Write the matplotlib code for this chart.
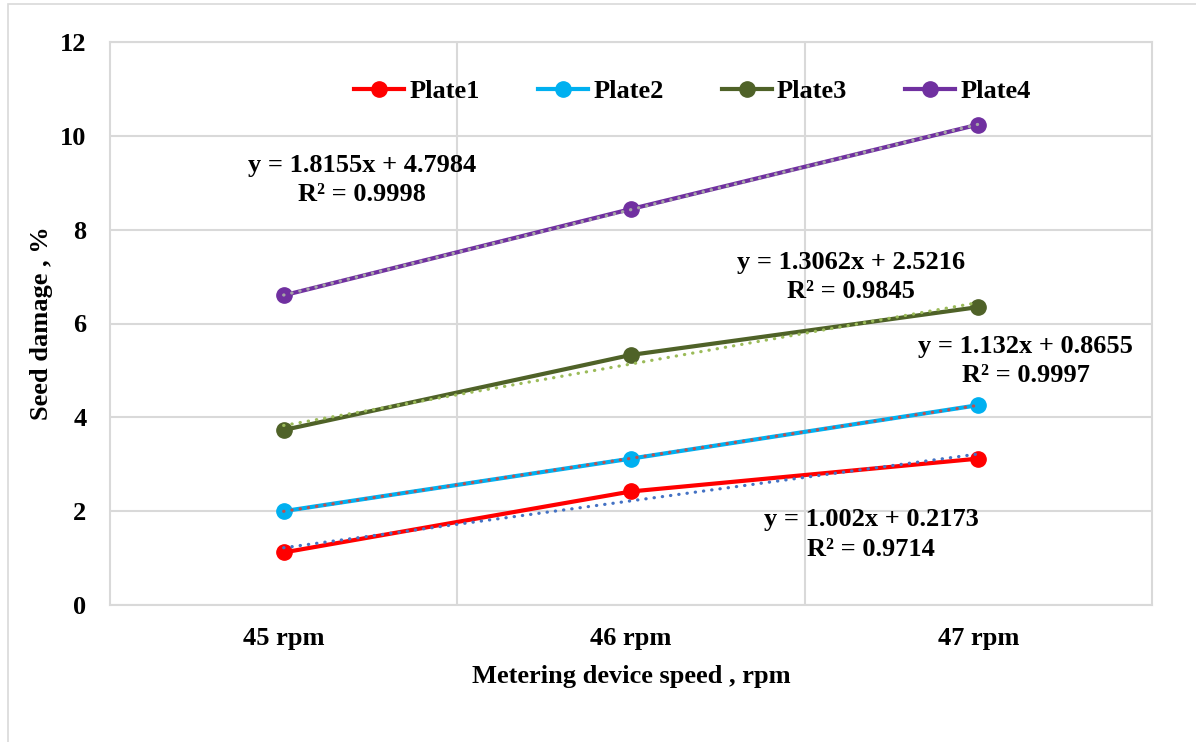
import numpy as np
import matplotlib.pyplot as plt
from matplotlib.patches import Rectangle

# chart data
speeds = ["45 rpm", "46 rpm", "47 rpm"]
plate1 = [1.12, 2.42, 3.12]
plate2 = [2.00, 3.12, 4.26]
plate3 = [3.73, 5.33, 6.35]
plate4 = [6.60, 8.44, 10.24]

labels = ["Plate1", "Plate2", "Plate3", "Plate4"]
line_colors = ["#FF0000", "#00B0F0", "#4F6228", "#7030A0"]
trend_colors = ["#4472C4", "#C0504D", "#9BBB59", "#A5A5A5"]

equations = ["y = 1.002x + 0.2173\nR² = 0.9714",
             "y = 1.132x + 0.8655\nR² = 0.9997",
             "y = 1.3062x + 2.5216\nR² = 0.9845",
             "y = 1.8155x + 4.7984\nR² = 0.9998"]
eq_pos = [(2.691, 1.50), (3.137, 5.20), (2.634, 6.99), (1.226, 9.06)]

plt.rcParams['font.family'] = ['Liberation Serif', 'DejaVu Serif']
plt.rcParams['font.weight'] = 'bold'

fig = plt.figure(figsize=(11.96, 7.42), dpi=100)
ax = fig.add_axes([110 / 1196, 1 - 605 / 742, 1042 / 1196, 563 / 742])

# outer chart-area border
fig.add_artist(Rectangle((8 / 1196, -0.05), 1.2, 1.05 - 4 / 742,
                         transform=fig.transFigure, fill=False,
                         edgecolor="#D9D9D9", lw=1.2))

x = np.arange(1, len(speeds) + 1)
series = [plate1, plate2, plate3, plate4]

for vals, lab, c in zip(series, labels, line_colors):
    ax.plot(x, vals, color=c, lw=3, marker='o', markersize=11,
            label=lab, zorder=3)

# linear trendlines on top, like Excel
for vals, c in zip(series, trend_colors):
    k, b = np.polyfit(x, vals, 1)
    ax.plot(x, k * x + b, color=c, lw=2.3, linestyle=(0, (0.1, 2.5)),
            dash_capstyle='round', zorder=4)

for txt, (tx, ty) in zip(equations, eq_pos):
    ax.text(tx, ty, txt, ha='center', va='center', fontsize=19,
            fontweight='bold', linespacing=1.35, zorder=5)

ax.set_xlim(0.5, 3.5)
ax.set_ylim(0, 12)
ax.set_yticks(np.arange(0, 13, 2))
ax.set_xticks(x)
ax.set_xticklabels(speeds)
ax.set_xticks([1.5, 2.5], minor=True)

ax.grid(axis='y', which='major', color="#D9D9D9", lw=1.5)
ax.grid(axis='x', which='minor', color="#D9D9D9", lw=1.5)
ax.set_axisbelow(True)
for s in ax.spines.values():
    s.set_color("#D9D9D9")
    s.set_linewidth(1.5)

ax.tick_params(axis='both', which='both', length=0, labelsize=19)
ax.tick_params(axis='y', pad=17)
ax.tick_params(axis='x', pad=16)

ax.set_xlabel("Metering device speed , rpm", fontsize=19, fontweight='bold',
              labelpad=11)
ax.set_ylabel("Seed damage , %", fontsize=19, fontweight='bold', labelpad=5)

ax.legend(loc='upper center', bbox_to_anchor=(0.559, 0.975), ncol=4,
          frameon=False, handlelength=1.9, handletextpad=0.2,
          columnspacing=2.2, prop={'weight': 'bold', 'size': 19})

fig.savefig("out.png", dpi=100)
